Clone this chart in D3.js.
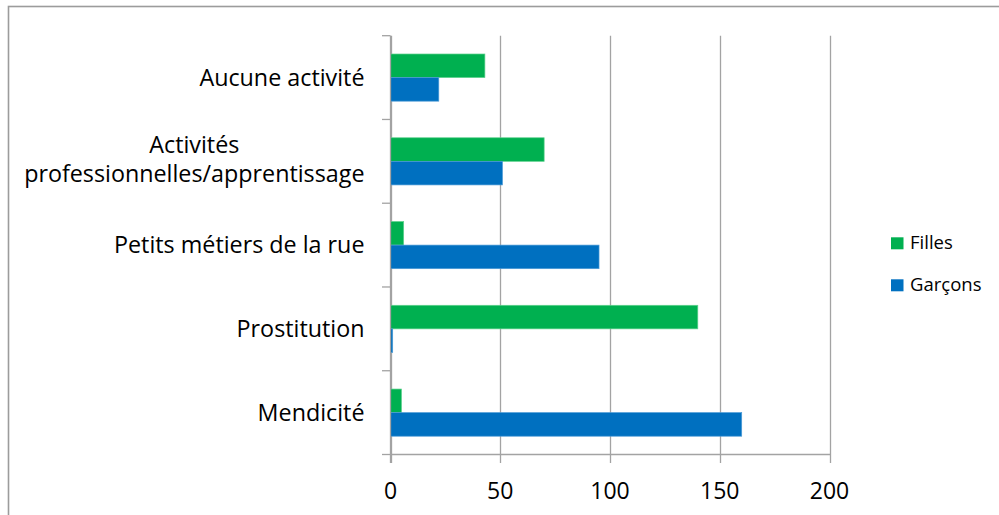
<!DOCTYPE html>
<html>
<head>
<meta charset="utf-8">
<script src="https://cdn.jsdelivr.net/npm/d3@7"></script>
<style>
  body { margin: 0; background: #fff; }
  text { font-family: "Open Sans", Lato, sans-serif; fill: #000; }
</style>
</head>
<body>
<svg id="chart" width="999" height="515"></svg>
<script>
// data
const categories = [
    ["Aucune activité"],
    ["Activités", "professionnelles/apprentissage"],
    ["Petits métiers de la rue"],
    ["Prostitution"],
    ["Mendicité"]
];
const filles = [43, 70, 6, 140, 5];
const garcons = [22, 51, 95, 1, 160];
const xTicks = [0, 50, 100, 150, 200];
const seriesNames = ["Filles", "Garçons"];
const seriesColors = ["#00b050", "#0070c0"];
const edgeColors = ["#5fd18e", "#4c9ad6"];

const svg = d3.select("#chart");

// outer frame (cut by the window on the right and bottom)
svg.append("rect")
    .attr("x", 8.5).attr("y", 6.5)
    .attr("width", 1100).attr("height", 600)
    .attr("fill", "none")
    .attr("stroke", "#9c9c9c")
    .attr("stroke-width", 1.6);

const plot = { left: 390.5, right: 829.5, top: 35.7, bottom: 454.5 };

const x = d3.scaleLinear().domain([0, 200]).range([plot.left, plot.right]);
const y = d3.scaleBand()
    .domain(d3.range(categories.length))
    .range([plot.top, plot.bottom])
    .paddingInner(0.437)
    .paddingOuter(0.2185);

const band = (plot.bottom - plot.top) / categories.length;

// vertical gridlines with their ticks below the axis
svg.append("g")
    .selectAll("line")
    .data(xTicks)
    .join("line")
    .attr("x1", (d) => Math.round(x(d)) + 0.5)
    .attr("x2", (d) => Math.round(x(d)) + 0.5)
    .attr("y1", plot.top)
    .attr("y2", plot.bottom + 8.5)
    .attr("stroke", "#a3a3a3")
    .attr("stroke-width", 1.3);

// bottom axis line
svg.append("line")
    .attr("x1", plot.left).attr("x2", Math.round(x(200)) + 0.5)
    .attr("y1", plot.bottom).attr("y2", plot.bottom)
    .attr("stroke", "#a3a3a3").attr("stroke-width", 1.3);

// category boundary ticks on the left axis
svg.append("g")
    .selectAll("line")
    .data(d3.range(categories.length + 1))
    .join("line")
    .attr("x1", plot.left - 8.5)
    .attr("x2", plot.left)
    .attr("y1", (i) => plot.top + i * band)
    .attr("y2", (i) => plot.top + i * band)
    .attr("stroke", "#a3a3a3").attr("stroke-width", 1.3);

// bars: green on top, blue below
const sub = d3.scaleBand().domain([0, 1]).range([0, y.bandwidth()]);
const series = [filles, garcons];
series.forEach(function (vals, s) {
    svg.append("g")
        .selectAll("rect")
        .data(vals)
        .join("rect")
        .attr("x", x(0))
        .attr("y", (d, i) => y(i) + sub(s))
        .attr("width", (d) => x(d) - x(0))
        .attr("height", sub.bandwidth())
        .attr("fill", seriesColors[s])
        .attr("stroke", edgeColors[s])
        .attr("stroke-width", 0.7);
});

// left axis line on top of bars
svg.append("line")
    .attr("x1", plot.left).attr("x2", plot.left)
    .attr("y1", plot.top).attr("y2", plot.bottom + 8.5)
    .attr("stroke", "#a3a3a3").attr("stroke-width", 1.3);

// x tick labels
svg.append("g")
    .selectAll("text")
    .data(xTicks)
    .join("text")
    .attr("x", (d) => x(d))
    .attr("y", 498.5)
    .attr("text-anchor", "middle")
    .style("font-size", "23px")
    .text((d) => d);

// category labels, right aligned, wrapped ones centred as a block
const labelRight = 364.5;
const labels = svg.append("g").style("font-size", "23.3px");
categories.forEach(function (lines, i) {
    const cy = plot.top + (i + 0.5) * band;
    if (lines.length === 1) {
        labels.append("text")
            .attr("x", labelRight)
            .attr("y", cy + 8)
            .attr("text-anchor", "end")
            .text(lines[0]);
    } else {
        const g = labels.append("g");
        const t = lines.map((l, k) =>
            g.append("text")
                .attr("y", cy - 8 + k * 29)
                .attr("text-anchor", "middle")
                .text(l)
        );
        const w = d3.max(t, (n) => n.node().getComputedTextLength());
        t.forEach((n) => n.attr("x", labelRight - w / 2));
    }
});

// legend
const legend = svg.append("g").attr("transform", "translate(891,0)");
seriesNames.forEach(function (name, s) {
    const top = 237.3 + s * 42;
    legend.append("rect")
        .attr("x", 0).attr("y", top)
        .attr("width", 12.5).attr("height", 12)
        .attr("fill", seriesColors[s]);
    legend.append("text")
        .attr("x", 19).attr("y", top + 12)
        .style("font-size", "18.5px")
        .text(name);
});
</script>
</body>
</html>
